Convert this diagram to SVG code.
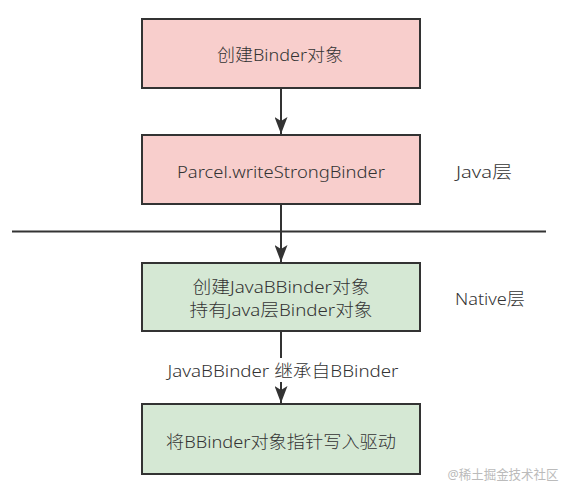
<svg xmlns="http://www.w3.org/2000/svg" width="570" height="496" viewBox="0 0 570 496">
  <style>
    .box { stroke: #333333; stroke-width: 2; }
    .pink { fill: #f8cecc; }
    .green { fill: #d5e8d4; }
    .t { font-family: "Noto Sans", "Noto Sans CJK SC", sans-serif; font-size: 17px; font-weight: 300; fill: #333333; text-anchor: middle; dominant-baseline: central; }
    .edge { stroke: #333333; stroke-width: 2; fill: none; }
    .wm { font-family: "Noto Sans", "Noto Sans CJK SC", sans-serif; font-size: 13px; fill: #bbbbbb; text-anchor: middle; dominant-baseline: central; }
  </style>
  <defs>
    <marker id="arrow" markerUnits="userSpaceOnUse" markerWidth="17" markerHeight="13" viewBox="0 0 17 13" refX="17" refY="6.5" orient="auto">
      <path d="M0,0 L17,6.5 L0,13 L4,6.5 z" fill="#333333"/>
    </marker>
  </defs>
  <rect width="570" height="496" fill="#ffffff"/>

  <g id="divider">
    <line x1="12" y1="231.5" x2="546" y2="231.5" stroke="#333333" stroke-width="2"/>
  </g>

  <g id="connectors">
    <line class="edge" x1="281" y1="88" x2="281" y2="134" marker-end="url(#arrow)"/>
    <line class="edge" x1="281" y1="204" x2="281" y2="262" marker-end="url(#arrow)"/>
    <line class="edge" x1="281" y1="331" x2="281" y2="403" marker-end="url(#arrow)"/>
    <rect x="165" y="358" width="236" height="24" fill="#ffffff"/>
    <text class="t" x="283" y="370" textLength="231" lengthAdjust="spacingAndGlyphs">JavaBBinder 继承自BBinder</text>
  </g>

  <g id="node-create-binder">
    <rect class="box pink" x="142" y="19" width="278" height="69"/>
    <text class="t" x="280" y="54" textLength="126" lengthAdjust="spacingAndGlyphs">创建Binder对象</text>
  </g>

  <g id="node-write-strong-binder">
    <rect class="box pink" x="142" y="135" width="278" height="69"/>
    <text class="t" x="281" y="171" textLength="208" lengthAdjust="spacingAndGlyphs">Parcel.writeStrongBinder</text>
  </g>

  <g id="node-java-bbinder">
    <rect class="box green" x="142" y="263" width="278" height="68"/>
    <text class="t" x="281" y="286" textLength="177" lengthAdjust="spacingAndGlyphs">创建JavaBBinder对象</text>
    <text class="t" x="281" y="309" textLength="183" lengthAdjust="spacingAndGlyphs">持有Java层Binder对象</text>
  </g>

  <g id="node-write-driver">
    <rect class="box green" x="142" y="404" width="278" height="70"/>
    <text class="t" x="281" y="441" textLength="230" lengthAdjust="spacingAndGlyphs">将BBinder对象指针写入驱动</text>
  </g>

  <g id="label-java">
    <text class="t" x="484" y="171" textLength="56" lengthAdjust="spacingAndGlyphs">Java层</text>
  </g>
  <g id="label-native">
    <text class="t" x="490" y="298" textLength="70" lengthAdjust="spacingAndGlyphs">Native层</text>
  </g>
  <g id="watermark">
    <text class="wm" x="503" y="474" textLength="111" lengthAdjust="spacingAndGlyphs">@稀土掘金技术社区</text>
  </g>
</svg>
